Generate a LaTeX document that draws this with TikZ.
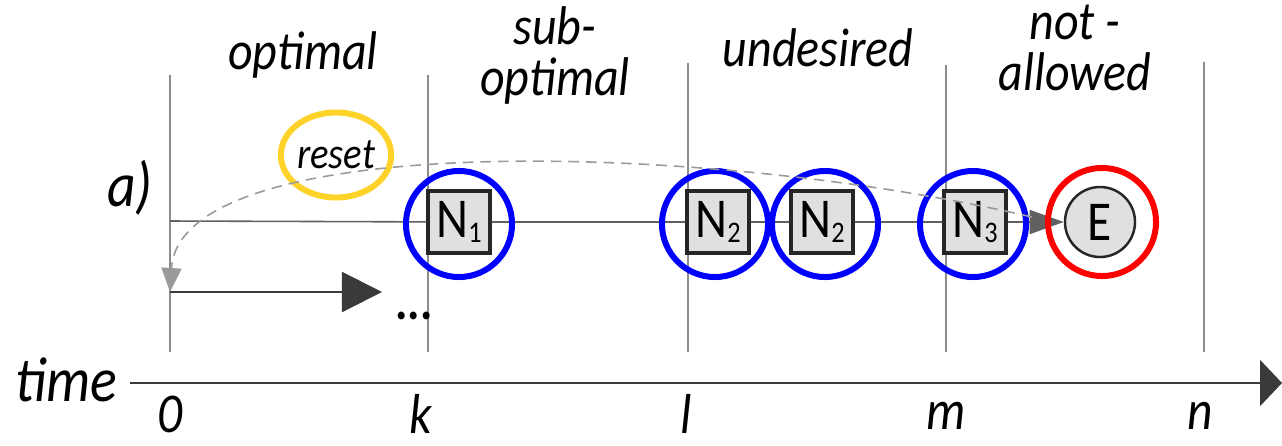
\documentclass[tikz,border=0pt]{standalone}
\usepackage{fontspec}
\setmainfont{Carlito}[FakeStretch=0.88]
\usetikzlibrary{arrows.meta,positioning,shapes.geometric}
\definecolor{RingBlue}{HTML}{0000FF}
\definecolor{RingRed}{HTML}{FF0000}
\definecolor{RingYellow}{HTML}{FFD22A}
\definecolor{BoxGray}{HTML}{E0E0E0}
\definecolor{GridGray}{HTML}{8C8C8C}
\definecolor{LineDark}{HTML}{3A3A3A}
\definecolor{ResetGray}{HTML}{9A9A9A}
\newcommand{\nsub}[1]{\raisebox{-1.5pt}{\fontsize{8.5}{8.5}\selectfont #1}}

\begin{document}
\begin{tikzpicture}[x=0.01cm, y=-0.01cm,
  every node/.style={font=\fontsize{15.5}{14.5}\selectfont\itshape},
  grid/.style={draw=GridGray, line width=0.4pt},
  statebox/.style={draw=black!85, line width=0.9pt, fill=BoxGray, minimum size=0.62cm, inner sep=0pt, font=\fontsize{16}{16}\selectfont\upshape},
  ring/.style={circle, line width=1.7pt, minimum size=1.06cm, inner sep=0pt},
  mainline/.style={draw=LineDark!80, line width=0.45pt},
  ticklabel/.style={inner sep=0pt, font=\fontsize{16}{16}\selectfont\itshape}]
\useasboundingbox (0,0) rectangle (1282,445);
\draw[grid] (170,75) -- (170,352);
\draw[grid] (428,75) -- (428,352);
\draw[grid] (688,63) -- (688,352);
\draw[grid] (946,65) -- (946,352);
\draw[grid] (1204,62) -- (1204,352);
\node (lopt) at (303,55) {optimal};
\node[align=center] (lsub) at (555,55) {sub-\\optimal};
\node (lund) at (818,48) {undesired};
\node[align=center] (lnot) at (1075,48) {not -\\allowed};
\node[font=\fontsize{18}{18}\selectfont\itshape] (case) at (130,188) {a)};
\coordinate (start) at (170,221);
\node[statebox] (n1) at (459,222) {N\nsub{1}};
\node[statebox] (n2a) at (718,222) {N\nsub{2}};
\node[statebox] (n2b) at (822,222) {N\nsub{2}};
\node[statebox] (n3) at (975,222) {N\nsub{3}};
\node[circle, draw=black!85, line width=0.7pt, fill=BoxGray, minimum size=0.70cm, inner sep=0pt, font=\fontsize{16}{16}\selectfont\upshape] (e) at (1100,222) {E};
\draw[mainline] (start) -- (n1) -- (n2a) -- (n2b) -- (n3);
\draw[mainline, -{Triangle[length=0.34cm, width=0.24cm]}] (n3) -- (e);
\node[ring, draw=RingBlue] (r1) at (459,224) {};
\node[ring, draw=RingBlue] (r2a) at (715,224) {};
\node[ring, draw=RingBlue] (r2b) at (825,224) {};
\node[ring, draw=RingBlue] (r3) at (973,224) {};
\node[ring, draw=RingRed, minimum size=1.08cm] (re) at (1102,222) {};
\node[ellipse, draw=RingYellow, line width=1.7pt, minimum width=1.07cm, minimum height=0.85cm, inner sep=0pt, font=\fontsize{12.5}{12}\selectfont\itshape] (reset) at (336,155) {reset};
\coordinate (loop) at (170,292);
\coordinate (loopend) at (382,292);
\coordinate (back) at (1032,217);
\draw[draw=LineDark, line width=0.6pt, -{Triangle[length=0.40cm, width=0.40cm]}] (loop) -- (loopend);
\node[font=\fontsize{15}{15}\selectfont\bfseries] (more) at (414,316) {...};
\draw[draw=ResetGray, line width=0.45pt, dash pattern=on 3pt off 2pt, -{Triangle[length=0.24cm, width=0.20cm]}] (back) .. controls (700,140) and (180,130) .. (loop);
\coordinate (t0) at (130,383);
\coordinate (t1) at (1282,383);
\draw[draw=LineDark, line width=0.6pt, -{Triangle[length=0.22cm, width=0.46cm]}] (t0) -- (t1);
\node[font=\fontsize{18}{18}\selectfont\itshape] (time) at (66,380) {time};
\node[ticklabel] (lab0) at (170,414) {0};
\node[ticklabel] (labk) at (421,414) {k};
\node[ticklabel] (labl) at (686,414) {l};
\node[ticklabel] (labm) at (946,416) {m};
\node[ticklabel] (labn) at (1200,416) {n};
\end{tikzpicture}
\end{document}
